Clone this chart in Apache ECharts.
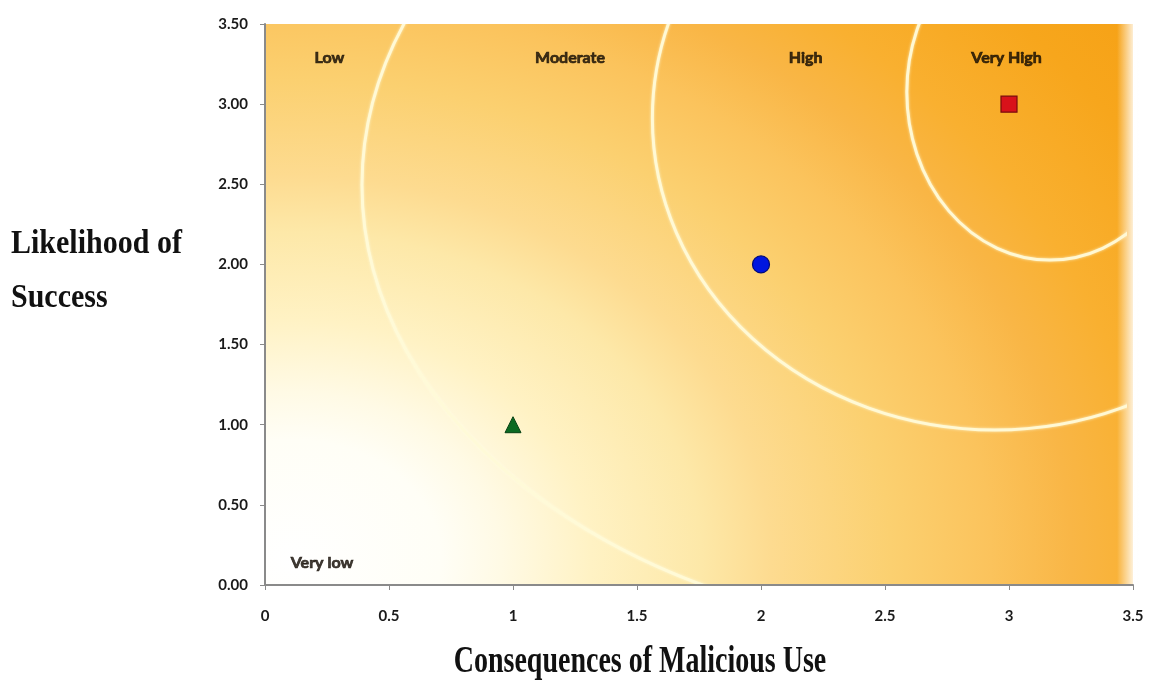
<!DOCTYPE html>
<html>
<head>
<meta charset="utf-8">
<script src="https://cdn.jsdelivr.net/npm/echarts@6/dist/echarts.min.js"></script>
<style>
html,body{margin:0;padding:0;background:#fff;}
#chart{width:1149px;height:681px;}
</style>
</head>
<body>
<div id="chart"></div>
<script>
// Tick labels
var xTicks = [0, 0.5, 1, 1.5, 2, 2.5, 3, 3.5];
var yTicks = [0, 0.5, 1, 1.5, 2, 2.5, 3, 3.5];

// Risk points
var lowPoint = [[1, 1]];
var moderatePoint = [[2, 2]];
var highPoint = [[3, 3]];

// Zone labels: name, x, y
var zoneNames = ['Very low', 'Low', 'Moderate', 'High', 'Very High'];
var zoneX = [0.23, 0.26, 1.23, 2.18, 2.99];
var zoneY = [0.14, 3.29, 3.29, 3.29, 3.29];

// Zone boundary ellipses (data units): centre x, centre y, radius x, radius y
var ringCx = [2.963, 2.943, 3.165];
var ringCy = [2.495, 2.913, 3.075];
var ringRx = [2.572, 1.381, 0.577];
var ringRy = [2.82, 1.946, 1.048];

var rings = ringCx.map(function (c, i) { return [c, ringCy[i], ringRx[i], ringRy[i]]; });
var zones = zoneNames.map(function (n, i) { return { name: n, value: [zoneX[i], zoneY[i]] }; });

// layout of the plot area
var G = { left: 265, right: 16, top: 24, bottom: 96 };
var W = 1149, H = 681;
var PW = W - G.left - G.right, PH = H - G.top - G.bottom;
var K = 0.8; // vertical squash of the background glow

var chart = echarts.init(document.getElementById('chart'));
var tickFont = { fontFamily: 'Lato', fontWeight: 'bold', fontSize: 15, color: '#1a1a1a' };
var titleFont = 'bold 30px "Liberation Serif"';

chart.setOption({
  animation: false,
  graphic: [
    { // elliptical background glow
      type: 'rect', silent: true, z: -10,
      x: G.left, y: G.top, scaleY: K,
      shape: { x: 0, y: 0, width: PW, height: PH / K },
      style: {
        fill: {
          type: 'radial', x: 0.03, y: 0.955, r: 1200 / (PH / K),
          colorStops: [
            { offset: 0, color: '#ffffff' },
            { offset: 0.125, color: '#fffef6' },
            { offset: 0.175, color: '#fffae5' },
            { offset: 0.25, color: '#fff2c4' },
            { offset: 0.342, color: '#fde8a8' },
            { offset: 0.4, color: '#fddb90' },
            { offset: 0.5, color: '#fbd070' },
            { offset: 0.583, color: '#fbc35c' },
            { offset: 0.65, color: '#f9b646' },
            { offset: 0.717, color: '#f9b030' },
            { offset: 0.825, color: '#f7a61c' },
            { offset: 1, color: '#f59c0e' }
          ]
        }
      }
    },
    { // soft right edge
      type: 'rect', silent: true, z: -9,
      shape: { x: G.left + PW - 16, y: G.top, width: 24, height: PH - 1 },
      style: {
        fill: { type: 'linear', x: 0, y: 0, x2: 1, y2: 0,
          colorStops: [{ offset: 0, color: 'rgba(255,255,255,0)' }, { offset: 0.7, color: 'rgba(255,255,255,0.85)' }, { offset: 1, color: 'rgba(255,255,255,1)' }] }
      }
    },
    { type: 'text', silent: true, x: 11, y: 244, scaleY: 1.15,
      style: { text: 'Likelihood of', font: titleFont, fill: '#111', align: 'left', verticalAlign: 'middle' } },
    { type: 'text', silent: true, x: 11, y: 298, scaleY: 1.15,
      style: { text: 'Success', font: titleFont, fill: '#111', align: 'left', verticalAlign: 'middle' } },
    { type: 'text', silent: true, x: 640, y: 662, scaleY: 1.38,
      style: { text: 'Consequences of Malicious Use', font: 'bold 28px "Liberation Serif"', fill: '#111', align: 'center', verticalAlign: 'middle' } }
  ],
  grid: { left: G.left, right: G.right, top: G.top, bottom: G.bottom, show: false },
  xAxis: {
    type: 'value', min: 0, max: 3.5, interval: 0.5,
    axisLine: { show: true, lineStyle: { color: '#8a8a8a', width: 2 } },
    axisTick: { show: true, length: 5, lineStyle: { color: '#8a8a8a' } },
    splitLine: { show: false },
    axisLabel: Object.assign({ margin: 24, formatter: function (v) { return String(v); } }, tickFont)
  },
  yAxis: {
    type: 'value', min: 0, max: 3.5, interval: 0.5,
    axisLine: { show: true, lineStyle: { color: '#8a8a8a', width: 2 } },
    axisTick: { show: true, length: 5, lineStyle: { color: '#8a8a8a' } },
    splitLine: { show: false },
    axisLabel: Object.assign({ margin: 17, formatter: function (v) { return v.toFixed(2); } }, tickFont)
  },
  series: [
    {
      type: 'custom', silent: true, z: 1,
      data: rings,
      renderItem: function (params, api) {
        var c = api.coord([api.value(0), api.value(1)]);
        var s = api.size([api.value(2), api.value(3)]);
        var rx = s[0], ry = s[1];
        var cs = params.coordSys;
        var d = 'M ' + (c[0] - rx) + ' ' + c[1] +
          ' A ' + rx + ' ' + ry + ' 0 1 0 ' + (c[0] + rx) + ' ' + c[1] +
          ' A ' + rx + ' ' + ry + ' 0 1 0 ' + (c[0] - rx) + ' ' + c[1] + ' Z';
        return {
          type: 'group',
          clipPath: { type: 'rect', shape: { x: cs.x, y: cs.y, width: cs.width - 6, height: cs.height - 1 } },
          children: [{
            type: 'path',
            shape: { pathData: d },
            style: { fill: null, stroke: 'rgba(255,250,215,0.95)', lineWidth: 3,
              shadowBlur: 3, shadowColor: 'rgba(255,255,230,0.8)' }
          }]
        };
      }
    },
    {
      type: 'scatter', z: 3, data: zones, symbolSize: 0, silent: true,
      label: { show: true, position: 'inside', formatter: '{b}',
        fontFamily: 'Lato', fontWeight: 'bold', fontSize: 16, color: '#120a02',
        textBorderColor: '#120a02', textBorderWidth: 0.7 }
    },
    {
      type: 'scatter', z: 4, data: lowPoint, symbol: 'triangle', symbolSize: [16, 16],
      itemStyle: { color: '#0c6a22', borderColor: '#064014', borderWidth: 1, opacity: 1 }
    },
    {
      type: 'scatter', z: 4, data: moderatePoint, symbol: 'circle', symbolSize: 17,
      itemStyle: { color: '#0016e0', borderColor: '#000a78', borderWidth: 1.2, opacity: 1 }
    },
    {
      type: 'scatter', z: 4, data: highPoint, symbol: 'rect', symbolSize: 16,
      itemStyle: { color: '#d8121a', borderColor: '#7a0a0e', borderWidth: 1.2, opacity: 1 }
    }
  ]
});
</script>
</body>
</html>
